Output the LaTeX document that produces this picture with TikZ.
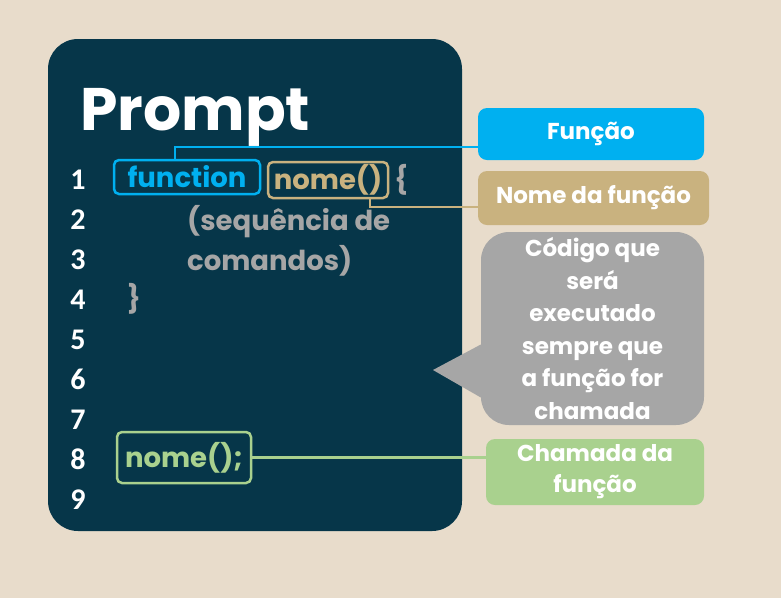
\documentclass[tikz,border=0pt]{standalone}
\usepackage{fontspec}
\setmainfont{Poppins}
\newfontfamily\numfont{Carlito}
\usetikzlibrary{positioning}

\definecolor{paper}{RGB}{232,220,203}
\definecolor{slate}{RGB}{6,54,73}
\definecolor{skyblue}{RGB}{0,176,240}
\definecolor{sand}{RGB}{201,178,127}
\definecolor{stone}{RGB}{166,166,166}
\definecolor{leaf}{RGB}{169,209,142}

\newcommand{\fsz}[1]{\fontsize{#1}{#1}\selectfont\bfseries}

\begin{document}
\begin{tikzpicture}[x=1pt, y=-1pt,
    codebox/.style={draw, line width=2.5pt, rounded corners=5pt, inner sep=0pt, font=\fsz{27.5}},
    tag/.style={rounded corners=9pt, text=white, inner sep=0pt, align=center, font=\fsz{23}},
    code/.style={text=stone, anchor=base west, inner sep=0pt, font=\fsz{27.5}},
    lineno/.style={text=white, anchor=base, inner sep=0pt, font=\numfont\bfseries\fontsize{30}{30}\selectfont},
    wire/.style={line width=2.5pt}
]

% background and editor panel
\fill[paper] (0,0) rectangle (781,598);
\fill[slate, rounded corners=30pt] (48,39) rectangle (462,531);

\node[text=white, anchor=base west, inner sep=0pt, font=\fsz{60}] (title) at (80,130) {Prompt};

% line numbers
\foreach \n in {1,...,9}
  \node[lineno] (ln\n) at (78,{189+40*(\n-1)}) {\n};

% code
\node[codebox, draw=skyblue, text=skyblue, minimum width=146pt, minimum height=34pt] (fn) at (187,177) {function};
\node[codebox, draw=sand, text=sand, minimum width=120pt, minimum height=36pt] (nm) at (328,180) {nome()};
\node[code, right=5pt of nm.east, anchor=west] (open) {\{};
\node[code] (body1) at (187,230) {(sequência de};
\node[code] (body2) at (187,270) {comandos)};
\node[code] (close) at (127,308) {\}};
\node[codebox, draw=leaf, text=leaf, minimum width=134pt, minimum height=51pt] (call) at (184,457.5) {nome();};

% labels
\node[tag, fill=skyblue, minimum width=226pt, minimum height=52pt] (funcao) at (591,134) {Função};
\node[tag, fill=sand, minimum width=231pt, minimum height=54pt] (nomefn) at (593.5,198) {Nome da função};
\node[tag, fill=stone, rounded corners=28pt, minimum width=223pt, minimum height=193pt, font=\fontsize{23}{32.5}\selectfont\bfseries] (bubble) at (592.5,328.5)
  {Código que\\será\\executado\\sempre que\\a função for\\chamada};
\fill[stone] (433,370) -- ([yshift=-16pt]bubble.west) -- ([yshift=-69pt]bubble.west) -- cycle;
\node[tag, fill=leaf, minimum width=218pt, minimum height=66pt, font=\fontsize{23}{31}\selectfont\bfseries] (chamada) at (595,472) {Chamada da\\função};

% connectors
\draw[wire, skyblue] ([xshift=-12pt]fn.north) |- ([yshift=-13pt]funcao.west);
\draw[wire, sand] ([xshift=42pt]nm.south) |- ([yshift=-9pt]nomefn.west);
\draw[wire, leaf] (call.east) -- (call.east -| chamada.west);

\end{tikzpicture}
\end{document}
